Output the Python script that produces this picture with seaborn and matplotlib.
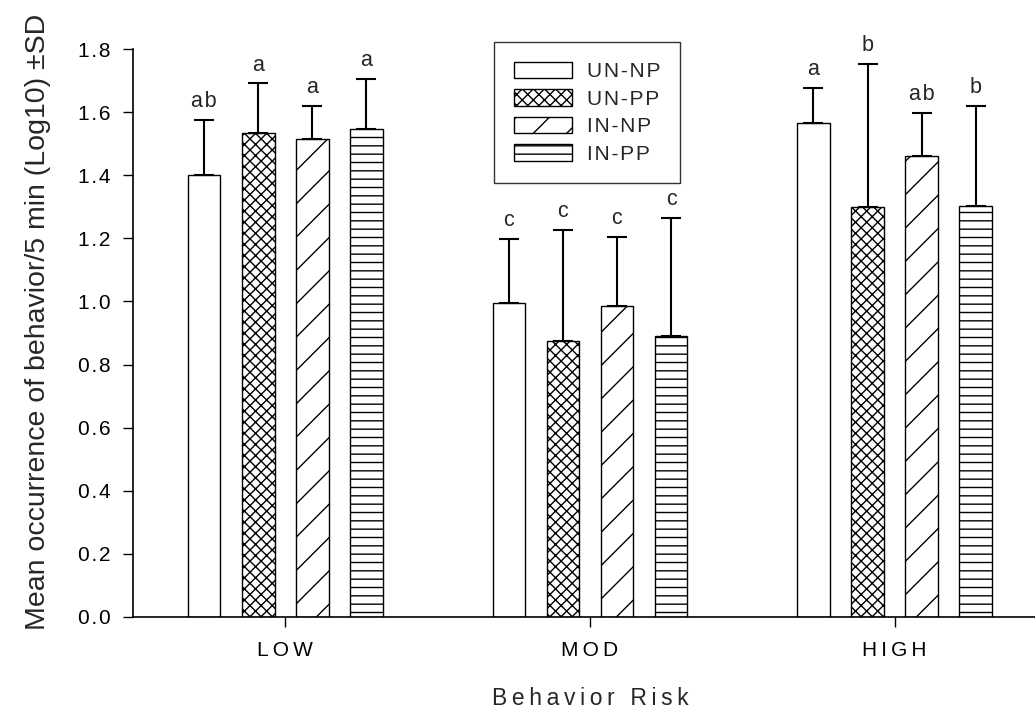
import numpy as np
import pandas as pd
import matplotlib
matplotlib.use("Agg")
import matplotlib.pyplot as plt
import seaborn as sns

# data
risk = ["LOW", "MOD", "HIGH"]
groups = ["UN-NP", "UN-PP", "IN-NP", "IN-PP"]
means = {
    "UN-NP": [1.400, 0.994, 1.566],
    "UN-PP": [1.533, 0.875, 1.300],
    "IN-NP": [1.515, 0.986, 1.462],
    "IN-PP": [1.546, 0.891, 1.303],
}
sds = {
    "UN-NP": [0.175, 0.203, 0.111],
    "UN-PP": [0.158, 0.351, 0.454],
    "IN-NP": [0.105, 0.219, 0.135],
    "IN-PP": [0.160, 0.373, 0.318],
}
letters = {
    "UN-NP": ["ab", "c", "a"],
    "UN-PP": ["a", "c", "b"],
    "IN-NP": ["a", "c", "ab"],
    "IN-PP": ["a", "c", "b"],
}
hatches = {"UN-NP": "", "UN-PP": "xxx", "IN-NP": "/", "IN-PP": "--"}

rows = []
for g in groups:
    for i, r in enumerate(risk):
        rows.append({"risk": r, "group": g, "mean": means[g][i], "sd": sds[g][i]})
df = pd.DataFrame(rows)

sns.set_style("ticks")
plt.rcParams['font.family'] = ['Liberation Sans', 'DejaVu Sans']
plt.rcParams['hatch.linewidth'] = 1.0


def spaced(s, sep="\u200a"):
    return sep.join(list(s))


fig = plt.figure(figsize=(10.35, 7.09), dpi=100)
ax = fig.add_axes([0.1285, 0.1298, 0.883, 0.801])

sns.barplot(data=df, x="risk", y="mean", hue="group", order=risk, hue_order=groups,
            palette=["white"] * 4, edgecolor="black", linewidth=1.0,
            width=0.71, gap=0.4, errorbar=None, legend=False, ax=ax)

for g, cont in zip(groups, ax.containers):
    for i, bar in enumerate(cont.patches):
        bar.set_hatch(hatches[g])
        x = bar.get_x() + bar.get_width() / 2
        y = bar.get_height()
        ax.errorbar(x, y, yerr=[[0], [sds[g][i]]], fmt="none", ecolor="black",
                    elinewidth=1.5, capsize=7, capthick=1.5)
        ax.text(x, y + sds[g][i] + 0.025, spaced(letters[g][i]), ha="center",
                va="bottom", fontsize=15.5)

ax.set_xlim(-0.5, 2.5)
ax.set_ylim(0, 1.8)
ax.set_yticks(np.arange(0, 1.81, 0.2))
ax.set_yticklabels([spaced(f"{v:.1f}") for v in np.arange(0, 1.81, 0.2)])
ax.set_xticks(range(len(risk)))
ax.set_xticklabels([spaced(r, "\u2009") for r in risk])
ax.tick_params(axis="both", direction="out", length=7, width=1, colors="black",
               labelsize=15, pad=9)
ax.tick_params(axis="x", pad=10)
sns.despine(ax=ax)
for s in ["left", "bottom"]:
    ax.spines[s].set_linewidth(1.2)
    ax.spines[s].set_color("black")

ax.set_ylabel("Mean occurrence of behavior/5 min (Log10) ±SD", fontsize=20.5)
ax.yaxis.set_label_coords(-0.09, 0.52)
ax.set_xlabel(spaced("Behavior Risk", "\u2009"), fontsize=16.5, labelpad=20)

leg = ax.legend(handles=ax.containers, labels=[spaced(g, "\u200a") for g in groups],
                loc="upper left", bbox_to_anchor=(494 / 1035, 1 - 42 / 709),
                bbox_transform=fig.transFigure, fontsize=15, frameon=True,
                fancybox=False, edgecolor="black", handlelength=2.8,
                handleheight=0.85, labelspacing=0.38, borderpad=0.95,
                handletextpad=0.7, borderaxespad=0)
leg.get_frame().set_linewidth(1.0)

fig.savefig("out.png", dpi=100)
